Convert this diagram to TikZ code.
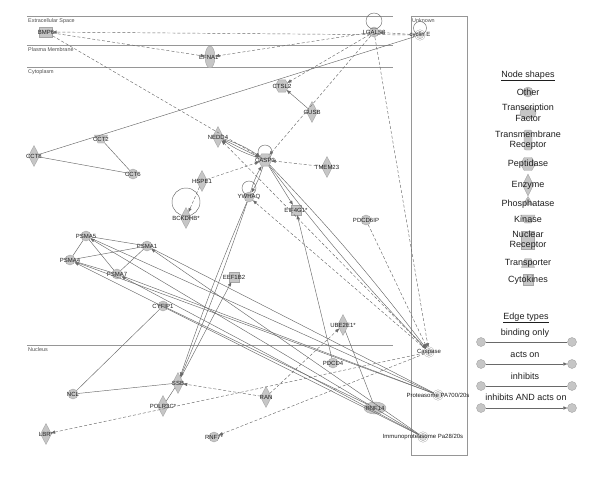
\documentclass[tikz,border=0pt]{standalone}
\usepackage{fontspec}
\setmainfont{Liberation Sans}
\usetikzlibrary{shapes.geometric,arrows.meta}

\definecolor{nodegray}{RGB}{198,198,198}
\definecolor{rimgray}{RGB}{165,165,165}
\definecolor{linegray}{RGB}{105,105,105}
\definecolor{textgray}{RGB}{30,30,30}
\definecolor{compgray}{RGB}{150,150,150}

\def\gene[#1](#2)#3#4{%
  \node[#1] (#2) at #3 {};%
  \node[glabel] (#2-l) at (#2) {#4};%
}

\tikzset{
  shapebase/.style={draw=rimgray,fill=nodegray,inner sep=0pt,line width=0.4pt},
  other/.style={shapebase,circle,minimum size=10pt},
  enzyme/.style={shapebase,diamond,minimum width=11pt,minimum height=21pt},
  peptidase/.style={shapebase,regular polygon,regular polygon sides=6,minimum size=14pt},
  cytokine/.style={shapebase,rectangle,minimum width=10pt,minimum height=10pt},
  growth/.style={shapebase,rectangle,minimum width=13pt,minimum height=10pt},
  receptor/.style={shapebase,ellipse,minimum width=10pt,minimum height=22pt},
  tfactor/.style={shapebase,ellipse,minimum width=22pt,minimum height=12pt},
  kinase/.style={shapebase,inner sep=1pt,trapezium,shape border rotate=180,trapezium stretches=true,minimum width=13pt,minimum height=8pt},
  complex/.style={circle,draw=rimgray,fill=nodegray!50,double=white,double distance=1pt,minimum size=9pt,inner sep=0pt},
  glabel/.style={font=\fontsize{6}{7}\selectfont,text=textgray,inner sep=0pt},
  comp/.style={font=\fontsize{5.4}{6}\selectfont,text=textgray!80,anchor=west,inner sep=0pt},
  legtext/.style={font=\fontsize{9}{10.5}\selectfont,text=textgray,align=center,inner sep=0pt},
  legdot/.style={circle,draw=rimgray,fill=nodegray,minimum size=9pt,inner sep=0pt},
  link/.style={draw=linegray,line width=0.45pt},
  indirect/.style={link,dash pattern=on 3pt off 2pt},
  acts/.style={-{Triangle[length=4pt,width=3.2pt]}},
}

\begin{document}
\begin{tikzpicture}[x=1pt,y=-1pt]
  \useasboundingbox (0,0) rectangle (600,479);

  % Kompartimente
  \draw[compgray] (27,16) -- (393,16);
  \draw[compgray] (27,45) -- (393,45);
  \draw[compgray] (27,67) -- (393,67);
  \draw[compgray] (27,345) -- (393,345);
  \draw[compgray] (411,16) rectangle (467,455);
  \node[comp] (c-extra) at (28,21) {Extracellular Space};
  \node[comp] (c-plasma) at (28,50) {Plasma Membrane};
  \node[comp] (c-cyto) at (28,72) {Cytoplasm};
  \node[comp] (c-nuc) at (28,350) {Nucleus};
  \node[comp] (c-unk) at (412,21) {Unknown};

  % Molekuele
  \gene[growth](bmp6){(46,32)}{BMP6}
  \gene[receptor](efna1){(210,57)}{EFNA1*}
  \gene[other](lgals3){(374,32)}{LGALS3}
  \gene[complex](cycline){(420,35)}{cyclin E}
  \gene[peptidase](ctsl2){(282,86)}{CTSL2}
  \gene[enzyme](gusb){(312,112)}{GUSB}
  \gene[kinase](cct2){(101,139)}{CCT2}
  \gene[enzyme](cct8){(34,156)}{CCT8}
  \gene[other](cct6){(133,174)}{CCT6}
  \gene[enzyme](nedd4){(218,137)}{NEDD4}
  \gene[peptidase](casp3){(265,160)}{CASP3}
  \gene[enzyme](tmem23){(327,167)}{TMEM23}
  \gene[enzyme](hspe1){(202,181)}{HSPE1}
  \gene[enzyme](bckdhb){(186,218)}{BCKDHB*}
  \gene[other](ywhaq){(249,197)}{YWHAQ}
  \gene[cytokine](eif4g1){(296,210)}{EIF4G1*}
  \gene[other](pdcd6ip){(366,220)}{PDCD6IP}
  \gene[other](psma5){(86,236)}{PSMA5}
  \gene[other](psma1){(147,246)}{PSMA1}
  \gene[other](psma4){(70,260)}{PSMA4}
  \gene[other](psma7){(117,274)}{PSMA7}
  \gene[other](cyfip1){(163,306)}{CYFIP1}
  \gene[cytokine](eef1b2){(234,277)}{EEF1B2}
  \gene[enzyme](ube2e1){(343,325)}{UBE2E1*}
  \gene[other](pdcd4){(333,363)}{PDCD4}
  \gene[complex](caspase){(429,352)}{Caspase}
  \gene[complex](pa700){(438,395)}{Proteasome PA700/20s}
  \gene[complex](immuno){(423,437)}{Immunoproteasome Pa28/20s}
  \gene[tfactor](rnf14){(375,408)}{RNF14}
  \gene[enzyme](ran){(266,397)}{RAN}
  \gene[other](rnf7){(214,437)}{RNF7*}
  \gene[other](ncl){(73,394)}{NCL}
  \gene[enzyme](ssb){(178,383)}{SSB}
  \gene[enzyme](polr3c){(163,406)}{POLR3C*}
  \gene[enzyme](lbr){(46,434)}{LBR*}

  % Selbstschleifen
  \draw[link] ([yshift=11pt]lgals3.center) circle (8pt);
  \draw[link] ([yshift=7pt]cycline.center) circle (6.5pt);
  \draw[link] ([yshift=8pt]casp3.center) circle (7pt);
  \draw[link] ([yshift=9pt]ywhaq.center) circle (7pt);
  \draw[link] ([yshift=16pt]bckdhb.center) circle (14pt);

  % indirekte Wirkungen
  \draw[indirect,acts] (cycline) -- (bmp6);
  \draw[indirect,acts] (bmp6) -- (efna1);
  \draw[indirect,acts] (lgals3) -- (efna1);
  \draw[indirect,acts] (bmp6) -- (casp3);
  \draw[indirect,acts] (cycline) -- (lgals3);
  \draw[indirect,acts] (lgals3) -- (ctsl2);
  \draw[indirect,acts] (lgals3) -- (casp3);
  \draw[indirect,acts] (lgals3) -- (caspase);
  \draw[indirect,acts] (hspe1) -- (casp3);
  \draw[indirect,acts] (tmem23) -- (casp3);
  \draw[indirect,acts] (hspe1) -- (bckdhb);
  \draw[indirect,acts] (caspase) -- (nedd4);
  \draw[indirect,acts] (caspase) -- (ywhaq);
  \draw[indirect,acts] (pdcd6ip) -- (caspase);
  \draw[indirect,acts] (caspase) -- (lbr);
  \draw[indirect,acts] (caspase) -- (rnf7);
  \draw[indirect,acts] (ran) -- (ssb);
  \draw[indirect,acts] (ran) -- (ube2e1);

  % direkte Wirkungen
  \draw[link] (cycline) -- (cct8);
  \draw[link] (cct2) -- (cct6);
  \draw[link] (cct8) -- (cct6);
  \draw[link,acts] (gusb) -- (ctsl2);
  \draw[link,acts] (nedd4) -- (casp3);
  \draw[link,acts] (nedd4) to[bend left=8] (casp3);
  \draw[link,acts] (casp3) to[bend left=8] (nedd4);
  \draw[link,acts] (casp3) to[bend left=6] (ywhaq);
  \draw[link,acts] (ywhaq) to[bend left=6] (casp3);
  \draw[link,acts] (casp3) -- (eif4g1);
  \draw[link,acts] (casp3) to[bend left=3] (caspase);
  \draw[link,acts] (casp3) to[bend right=3] (caspase);
  \draw[link,acts] (ywhaq) to[bend left=2] (ssb);
  \draw[link,acts] (ywhaq) to[bend right=2] (ssb);
  \draw[link,acts] (ssb) -- (eef1b2);
  \draw[link] (ncl) -- (ssb);
  \draw[link] (ncl) -- (cyfip1);
  \draw[link] (ssb) -- (polr3c);
  \draw[link,acts] (pdcd4) -- (eif4g1);
  \draw[link] (ube2e1) -- (rnf14);
  \draw[link] (cyfip1) -- (rnf14);
  % Proteasom-Gruppe
  \draw[link] (psma5) -- (psma1);
  \draw[link] (psma5) -- (psma4);
  \draw[link] (psma5) -- (psma7);
  \draw[link] (psma4) -- (psma1);
  \draw[link] (psma4) -- (psma7);
  \draw[link] (psma7) -- (psma1);
  \foreach \p in {psma5,psma1,psma4,psma7} {
    \draw[link] (\p) -- (pa700);
    \draw[link,acts] (immuno) -- (\p);
  }

  % Legende Knoten
  \node[legtext] (lg-title) at (528,76) {\underline{Node shapes}};
  \node[shapebase,circle,minimum size=10pt] (lg-o) at (528,92) {};
  \node[shapebase,ellipse,minimum width=16pt,minimum height=12pt] (lg-tf) at (528,113) {};
  \node[shapebase,rounded corners=2pt,rectangle,minimum width=8pt,minimum height=20pt] (lg-tm) at (528,140) {};
  \node[shapebase,regular polygon,regular polygon sides=6,minimum size=15pt] (lg-pe) at (528,164) {};
  \node[shapebase,diamond,minimum width=11pt,minimum height=22pt] (lg-en) at (528,185) {};
  \node[shapebase,inner sep=1pt,isosceles triangle,shape border rotate=90,isosceles triangle stretches=true,minimum width=10pt,minimum height=8pt] (lg-ph) at (528,202) {};
  \node[shapebase,inner sep=1pt,trapezium,shape border rotate=180,trapezium stretches=true,minimum width=14pt,minimum height=8pt] (lg-ki) at (528,219) {};
  \node[shapebase,rectangle,minimum width=13pt,minimum height=18pt] (lg-nr) at (528,240) {};
  \node[shapebase,inner sep=1pt,trapezium,trapezium stretches=true,minimum width=13pt,minimum height=9pt] (lg-tr) at (528,263) {};
  \node[shapebase,rectangle,minimum width=10pt,minimum height=11pt] (lg-cy) at (528,280) {};
  \node[legtext] (lg-o-t) at (lg-o) {Other};
  \node[legtext] (lg-tf-t) at (528,113) {Transcription\\Factor};
  \node[legtext] (lg-tm-t) at (528,140) {Transmembrane\\Receptor};
  \node[legtext] (lg-pe-t) at (lg-pe) {Peptidase};
  \node[legtext] (lg-en-t) at (lg-en) {Enzyme};
  \node[legtext] (lg-ph-t) at (528,204) {Phosphatase};
  \node[legtext] (lg-ki-t) at (lg-ki) {Kinase};
  \node[legtext] (lg-nr-t) at (528,240) {Nuclear\\Receptor};
  \node[legtext] (lg-tr-t) at (lg-tr) {Transporter};
  \node[legtext] (lg-cy-t) at (lg-cy) {Cytokines};

  % Legende Kanten
  \node[legtext] (le-title) at (526,318) {\underline{Edge types}};
  \node[legdot] (b1) at (481,342) {};
  \node[legdot] (b2) at (572,342) {};
  \draw[link] (b1) -- (b2);
  \node[legtext] (b-t) at (525,333) {binding only};
  \node[legdot] (a1) at (481,364) {};
  \node[legdot] (a2) at (572,364) {};
  \draw[link,acts] (a1) -- (a2);
  \node[legtext] (a-t) at (525,355) {acts on};
  \node[legdot] (i1) at (481,386) {};
  \node[legdot] (i2) at (572,386) {};
  \draw[link] (i1) -- (i2);
  \node[legtext] (i-t) at (525,376) {inhibits};
  \node[legdot] (ia1) at (481,408) {};
  \node[legdot] (ia2) at (572,408) {};
  \draw[link,acts] (ia1) -- (ia2);
  \node[legtext] (ia-t) at (526,397) {inhibits AND acts on};
\end{tikzpicture}
\end{document}
